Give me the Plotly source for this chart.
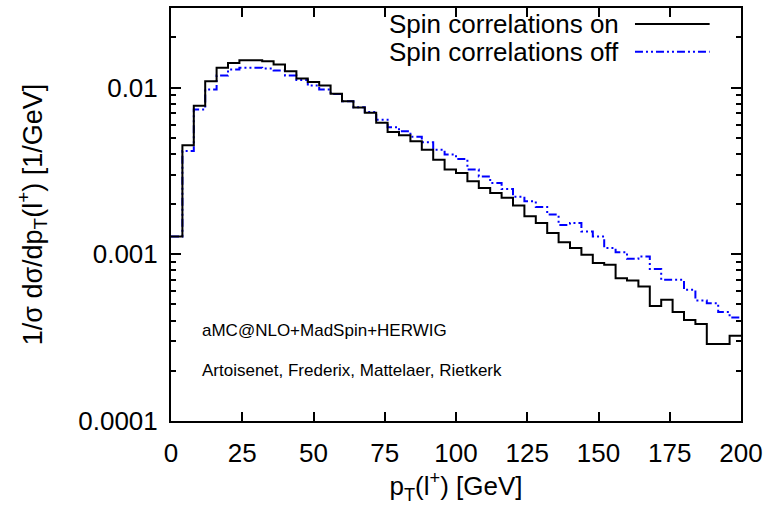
import plotly.graph_objects as go

# bin edges in GeV (4 GeV bins from 0 to 200)
bin_edges = list(range(0, 201, 4))

# 1/sigma dsigma/dpT [1/GeV], spin correlations on
spin_on = [0.00128, 0.00450, 0.00777, 0.01091, 0.01313, 0.01403, 0.01459, 0.01459, 0.01439, 0.01374,
           0.01253, 0.01133, 0.01079, 0.01028, 0.00918, 0.00827, 0.00760, 0.00705, 0.00614, 0.00542,
           0.00517, 0.00476, 0.00424, 0.00369, 0.00322, 0.00307, 0.00274, 0.00250, 0.00233, 0.00218,
           0.00196, 0.00169, 0.00154, 0.00134, 0.00118, 0.00109, 0.000993, 0.000885, 0.000865, 0.000719,
           0.000696, 0.000641, 0.000490, 0.000533, 0.000450, 0.000404, 0.000382, 0.000290, 0.000290, 0.000325]

# spin correlations off
spin_off = [0.00128, 0.00416, 0.00738, 0.00973, 0.01181, 0.01282, 0.01313, 0.01313, 0.01300, 0.01265,
            0.01181, 0.01109, 0.01028, 0.00973, 0.00914, 0.00827, 0.00763, 0.00713, 0.00642, 0.00578,
            0.00546, 0.00506, 0.00469, 0.00424, 0.00396, 0.00373, 0.00322, 0.00293, 0.00268, 0.00246,
            0.00221, 0.00208, 0.00192, 0.00173, 0.00150, 0.00154, 0.00137, 0.00128, 0.00109, 0.00103,
            0.000940, 0.000970, 0.000815, 0.000703, 0.000703, 0.000612, 0.000528, 0.000509, 0.000450, 0.000417]

y_tickvals = [0.0001, 0.001, 0.01]
y_ticktext = ["0.0001", "0.001", "0.01"]
x_tickvals = [0, 25, 50, 75, 100, 125, 150, 175, 200]

legend_labels = ["Spin correlations on", "Spin correlations off"]
FONT = "Liberation Sans, Arial, sans-serif"
BLUE_DASH = "8px,3px,2px,3px,2px,3px"

fig = go.Figure()
fig.add_trace(go.Scatter(x=bin_edges, y=spin_off + [spin_off[-1]], mode="lines",
                         line=dict(color="#0000ff", width=2, shape="hv", dash=BLUE_DASH),
                         name=legend_labels[1], showlegend=False))
fig.add_trace(go.Scatter(x=bin_edges, y=spin_on + [spin_on[-1]], mode="lines",
                         line=dict(color="black", width=2, shape="hv"),
                         name=legend_labels[0], showlegend=False))

# gnuplot-style legend (text left, sample right)
leg_y = [0.961, 0.894]
leg_styles = [dict(color="black", width=2), dict(color="#0000ff", width=2, dash=BLUE_DASH)]
for lab, yy, st in zip(legend_labels, leg_y, leg_styles):
    fig.add_annotation(x=0.79, y=yy, xref="paper", yref="paper", text=lab, showarrow=False,
                       xanchor="right", yanchor="middle", font=dict(size=26, color="black", family=FONT))
    fig.add_shape(type="line", xref="paper", yref="paper", x0=0.814, x1=0.945, y0=yy, y1=yy, line=st)

fig.add_annotation(x=0.05, y=0.219, xref="paper", yref="paper", text="aMC@NLO+MadSpin+HERWIG",
                   showarrow=False, xanchor="left", yanchor="middle",
                   font=dict(size=17, color="black", family=FONT))
fig.add_annotation(x=0.05, y=0.123, xref="paper", yref="paper",
                   text="Artoisenet, Frederix, Mattelaer, Rietkerk",
                   showarrow=False, xanchor="left", yanchor="middle",
                   font=dict(size=17, color="black", family=FONT))

fig.update_layout(
    width=769, height=506,
    margin=dict(l=171, r=27, t=6, b=85),
    paper_bgcolor="white", plot_bgcolor="white",
    font=dict(family=FONT, size=26, color="black"),
    showlegend=False,
)
fig.update_xaxes(range=[0, 200], tickvals=x_tickvals, ticks="inside", ticklen=9, tickwidth=1.5,
                 tickcolor="black", showline=True, linecolor="black", linewidth=2, mirror="ticks",
                 showgrid=False, zeroline=False, tickfont=dict(size=26), ticklabelstandoff=8,
                 title=dict(text="p<sub>T</sub>(l<sup>+</sup>) [GeV]", font=dict(size=26), standoff=8))
fig.update_yaxes(type="log", range=[-4, -1.5229], tickvals=y_tickvals, ticktext=y_ticktext,
                 ticks="inside", ticklen=10, tickwidth=1.5, tickcolor="black",
                 showline=True, linecolor="black", linewidth=2, mirror="ticks",
                 showgrid=False, zeroline=False, tickfont=dict(size=26), ticklabelstandoff=6,
                 minor=dict(ticks="inside", ticklen=5, tickwidth=1.5, tickcolor="black", dtick="D1", showgrid=False),
                 title=dict(text="1/σ dσ/dp<sub>T</sub>(l<sup>+</sup>) [1/GeV]", font=dict(size=27), standoff=28))

fig.write_html("out.html")
